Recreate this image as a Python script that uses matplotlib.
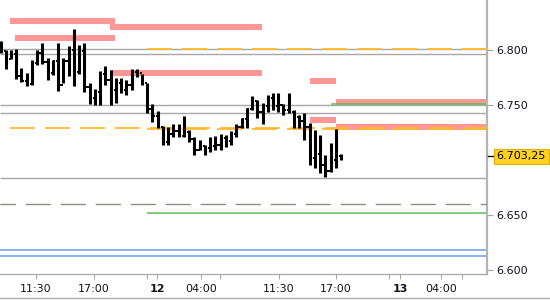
import matplotlib
matplotlib.use("Agg")
import matplotlib.pyplot as plt
from matplotlib.lines import Line2D
from matplotlib import transforms

plt.rcParams['font.family'] = ['DejaVu Sans']
plt.rcParams['lines.scale_dashes'] = False

# barras (HLOC) de 30 min, precio
highs = [6.8082, 6.8000, 6.8000, 6.8009, 6.7836, 6.7791, 6.7909, 6.8000, 6.8064, 6.7927,
         6.7909, 6.8064, 6.7927, 6.8036, 6.8191, 6.8045, 6.8064, 6.7700, 6.7645, 6.7809,
         6.7855, 6.7818, 6.7745, 6.7745, 6.7727, 6.7827, 6.7827, 6.7782, 6.7700, 6.7509,
         6.7445, 6.7309, 6.7300, 6.7327, 6.7327, 6.7400, 6.7273, 6.7209, 6.7182, 6.7136,
         6.7209, 6.7218, 6.7236, 6.7227, 6.7264, 6.7327, 6.7382, 6.7473, 6.7582, 6.7545,
         6.7518, 6.7591, 6.7609, 6.7609, 6.7509, 6.7609, 6.7455, 6.7409, 6.7427, 6.7336,
         6.7273, 6.7227, 6.7045, 6.7155, 6.7282, 6.7055]
lows = [6.7973, 6.7827, 6.7918, 6.7736, 6.7709, 6.7673, 6.7682, 6.7864, 6.7873, 6.7727,
        6.7773, 6.7627, 6.7700, 6.7764, 6.7673, 6.7782, 6.7618, 6.7509, 6.7500, 6.7500,
        6.7682, 6.7500, 6.7518, 6.7609, 6.7591, 6.7636, 6.7755, 6.7682, 6.7427, 6.7345,
        6.7291, 6.7136, 6.7136, 6.7209, 6.7209, 6.7209, 6.7164, 6.7045, 6.7091, 6.7045,
        6.7073, 6.7091, 6.7091, 6.7118, 6.7136, 6.7209, 6.7291, 6.7291, 6.7455, 6.7382,
        6.7327, 6.7436, 6.7455, 6.7436, 6.7409, 6.7427, 6.7291, 6.7291, 6.7182, 6.6955,
        6.6927, 6.6882, 6.6845, 6.6891, 6.6927, 6.7000]
opens = [6.8060, 6.7990, 6.7920, 6.7960, 6.7760, 6.7720, 6.7690, 6.7880, 6.7970, 6.7890,
         6.7790, 6.7900, 6.7680, 6.7900, 6.8000, 6.7800, 6.7990, 6.7660, 6.7560, 6.7620,
         6.7780, 6.7730, 6.7640, 6.7700, 6.7640, 6.7680, 6.7800, 6.7790, 6.7700, 6.7460,
         6.7400, 6.7300, 6.7160, 6.7240, 6.7260, 6.7220, 6.7250, 6.7190, 6.7090, 6.7130,
         6.7110, 6.7130, 6.7140, 6.7200, 6.7170, 6.7240, 6.7300, 6.7370, 6.7460, 6.7540,
         6.7440, 6.7490, 6.7560, 6.7490, 6.7500, 6.7450, 6.7440, 6.7390, 6.7350, 6.7300,
         6.7020, 6.7050, 6.6950, 6.6900, 6.7000, 6.7040]
closes = [6.7990, 6.7880, 6.7960, 6.7760, 6.7720, 6.7690, 6.7880, 6.7970, 6.7890, 6.7790,
          6.7900, 6.7680, 6.7900, 6.8000, 6.7800, 6.7990, 6.7660, 6.7560, 6.7620, 6.7780,
          6.7730, 6.7640, 6.7700, 6.7640, 6.7680, 6.7800, 6.7790, 6.7700, 6.7460, 6.7400,
          6.7300, 6.7160, 6.7240, 6.7260, 6.7220, 6.7250, 6.7190, 6.7090, 6.7130, 6.7110,
          6.7130, 6.7140, 6.7200, 6.7170, 6.7240, 6.7300, 6.7370, 6.7460, 6.7540, 6.7440,
          6.7490, 6.7560, 6.7490, 6.7500, 6.7450, 6.7440, 6.7390, 6.7350, 6.7300, 6.7020,
          6.7050, 6.6950, 6.6900, 6.7000, 6.7080, 6.70325]
ultimo = 6.70325

# eje de tiempo (posiciones en barras)
ticks_x = [6.77, 17.84, 29.87, 38.26, 53.15, 64.03, 76.24, 84.06]
etiquetas_x = ['11:30', '17:00', '12', '04:00', '11:30', '17:00', '13', '04:00']
ticks_menores = [27.96, 41.89, 74.14, 88.07]
ticks_y = [6.600, 6.650, 6.750, 6.800]
etiquetas_y = ['6.600', '6.650', '6.750', '6.800']

# zonas (rosa): nivel, desde, hasta
zonas_nivel = [6.8268, 6.8205, 6.8109, 6.7795, 6.7714, 6.7527, 6.7368, 6.7300]
zonas_desde = [1.8, 20.9, 2.8, 20.9, 59.1, 64.0, 59.1, 64.0]
zonas_hasta = [21.85, 49.9, 21.85, 49.9, 64.0, 93.0, 64.0, 93.0]

# niveles grises, verdes, azules
grises = [6.8009, 6.7964, 6.7500, 6.7427, 6.6836]
verdes_nivel = [6.7505, 6.6518]
verdes_desde = [63.1, 28.0]
azules = [6.6182, 6.6127]
naranja_nivel = [6.8009, 6.7291, 6.7286]
naranja_desde = [28.0, 1.8, 28.0]
nivel_discontinuo = 6.6600

x = list(range(len(highs)))
xmin, xmax = -0.1, 92.84

fig = plt.figure(figsize=(5.5, 3.0), dpi=100)
ax = fig.add_axes([0, 26 / 300, 487 / 550, 274 / 300])
ax.set_xlim(xmin, xmax)
ax.set_ylim(6.59636, 6.84545)

for nv, a, b in zip(zonas_nivel, zonas_desde, zonas_hasta):
    ax.hlines(nv, a, b, color='#ff9696', lw=4.3, zorder=1)

ax.hlines(grises, xmin, xmax, color='#a8a8a8', lw=1.0, zorder=2)
for nv, a in zip(verdes_nivel, verdes_desde):
    ax.hlines(nv, a, xmax, color='#5cbf5c', lw=1.1, zorder=2)
ax.hlines(azules, xmin, xmax, color='#6a9cf0', lw=1.1, zorder=2)
for nv, a in zip(naranja_nivel, naranja_desde):
    ax.hlines(nv, a, xmax, color='#ffb830', lw=1.3,
              linestyles=[(0, (18, 7.2))], zorder=3)
ax.hlines(nivel_discontinuo - 0.0004, xmin, xmax, color='#e8a040', lw=0.8,
          linestyles=[(7, (18, 7.2))], zorder=3)
ax.hlines(nivel_discontinuo, xmin, xmax, color='#8a8a8a', lw=0.9,
          linestyles=[(7, (18, 7.2))], zorder=3)

# barras HLOC
ax.vlines(x, lows, highs, color='black', lw=2.2, zorder=5)
ax.hlines(opens, [i - 0.42 for i in x], x, color='black', lw=1.4, zorder=5)
ax.hlines(closes, x, [i + 0.45 for i in x], color='black', lw=1.4, zorder=5)

for s in ['top', 'left']:
    ax.spines[s].set_visible(False)
ax.spines['right'].set_color('#b4b4b4')
ax.spines['right'].set_linewidth(1.6)
ax.spines['bottom'].set_color('#a8a8a8')
ax.spines['bottom'].set_linewidth(0.9)

ax.yaxis.tick_right()
ax.set_yticks(ticks_y)
ax.set_yticklabels(etiquetas_y)
ax.tick_params(axis='y', length=4, width=0.9, color='#a8a8a8', pad=3,
               labelsize=8, labelcolor='#111122')
ax.set_xticks(ticks_x)
ax.set_xticklabels(etiquetas_x)
ax.set_xticks(ticks_menores, minor=True)
ax.tick_params(axis='x', which='both', length=3.5, width=0.8, color='#a8a8a8',
               pad=4, labelsize=8, labelcolor='#111122')
for lbl in ax.get_xticklabels():
    if lbl.get_text() in ('12', '13'):
        lbl.set_fontweight('bold')

# etiqueta del último precio
trans = transforms.blended_transform_factory(ax.transAxes, ax.transData)
ax.plot([1.002, 1.012], [ultimo, ultimo], transform=trans, color='black',
        lw=1.0, clip_on=False, zorder=6)
ax.text(1.02, ultimo, '6.703,25', transform=trans, fontsize=8, color='black',
        va='center', ha='left', clip_on=False, zorder=7,
        bbox=dict(boxstyle='square,pad=0.25', facecolor='#ffd21f',
                  edgecolor='#e0b000', lw=0.8))

fig.add_artist(Line2D([0, 1], [2.5 / 300, 2.5 / 300], color='#b0b0b0', lw=1.0))

fig.savefig('out.png', dpi=100)
